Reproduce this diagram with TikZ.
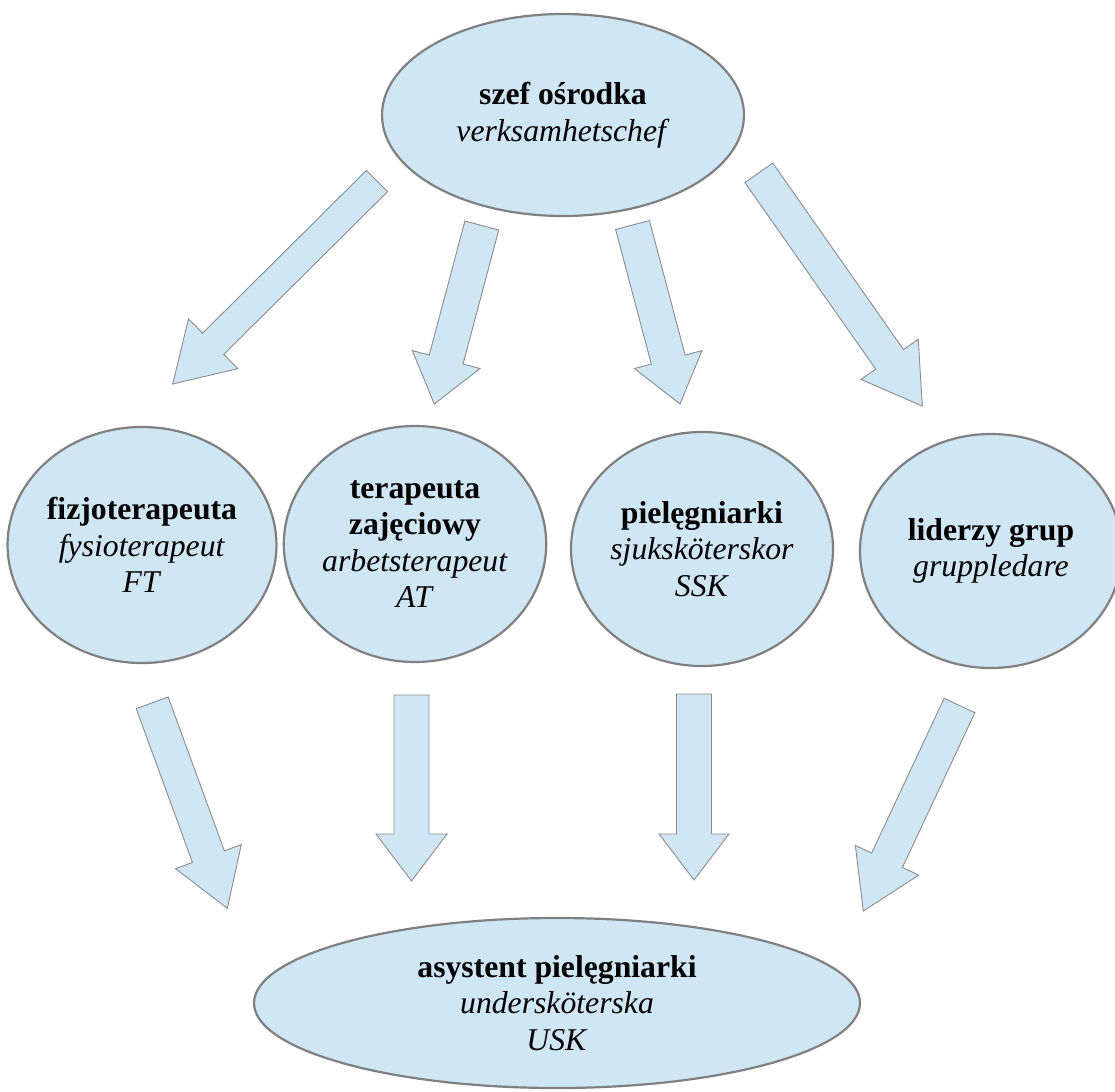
\documentclass[tikz,border=0pt]{standalone}
\usepackage{fontspec}
\setmainfont{Liberation Serif}
\usetikzlibrary{shapes.geometric,calc}

\definecolor{rolefill}{RGB}{207,230,244}
\definecolor{roleline}{RGB}{128,128,128}
\definecolor{arrline}{RGB}{140,140,140}

\tikzstyle{role}=[ellipse,draw=roleline,line width=2.2pt,fill=rolefill,inner sep=0pt,align=center,font=\fontsize{31.7}{36.5}\selectfont]
\tikzstyle{blockarr}=[draw=arrline,line width=0.9pt,fill=rolefill,line join=miter]

% #1 tail, #2 tip, #3 half shaft, #4 half head, #5 head length
\newcommand{\blockarrow}[5]{%
  \coordinate (hb) at ($(#2)!#5!(#1)$);
  \draw[blockarr] ($(#1)!#3!90:(#2)$) -- ($(hb)!#3!90:(#2)$) -- ($(hb)!#4!90:(#2)$)
    -- (#2) -- ($(hb)!#4!-90:(#2)$) -- ($(hb)!#3!-90:(#2)$) -- ($(#1)!#3!-90:(#2)$) -- cycle;
}

\begin{document}
\begin{tikzpicture}[x=1pt,y=-1pt]
   \useasboundingbox (0,0) rectangle (1115,1091);

   \node[role,minimum width=362pt,minimum height=202pt] (chef) at (563,115)
      {\textbf{szef ośrodka}\\\textit{verksamhetschef}};

   \node[role,minimum width=262pt,minimum height=236pt] (fysio) at (142,545)
      {\textbf{fizjoterapeuta}\\\textit{fysioterapeut}\\\textit{FT}};
   \node[role,minimum width=262pt,minimum height=236pt] (arbets) at (415,544)
      {\textbf{terapeuta}\\\textbf{zajęciowy}\\\textit{arbetsterapeut}\\\textit{AT}};
   \node[role,minimum width=262pt,minimum height=234pt] (sjuk) at (702,549)
      {\textbf{pielęgniarki}\\\textit{sjuksköterskor}\\\textit{SSK}};
   \node[role,minimum width=262pt,minimum height=234pt] (grupp) at (991,551)
      {\textbf{liderzy grup}\\\textit{gruppledare}};

   \node[role,minimum width=606pt,minimum height=170pt] (usk) at (557,1003)
      {\textbf{asystent pielęgniarki}\\\textit{undersköterska}\\\textit{USK}};

   % chef -> second row
   \coordinate (a1t) at (377,181);   \coordinate (a1h) at (172.7,384);
   \coordinate (a2t) at (481.8,225.5); \coordinate (a2h) at (434.3,404);
   \coordinate (a3t) at (632.5,225); \coordinate (a3h) at (680,404);
   \coordinate (a4t) at (758.8,172.8); \coordinate (a4h) at (922.3,406);
   \blockarrow{a1t}{a1h}{15pt}{35pt}{57pt}
   \blockarrow{a2t}{a2h}{17.5pt}{35pt}{46pt}
   \blockarrow{a3t}{a3h}{17.5pt}{35pt}{46pt}
   \blockarrow{a4t}{a4h}{17pt}{35pt}{57pt}

   % second row -> usk
   \coordinate (b1t) at (152.2,702.8); \coordinate (b1h) at (227.3,908.3);
   \coordinate (b2t) at (411.5,695); \coordinate (b2h) at (411.5,881);
   \coordinate (b3t) at (694,694);   \coordinate (b3h) at (694,880);
   \coordinate (b4t) at (959.5,705.5); \coordinate (b4h) at (863.3,911);
   \blockarrow{b1t}{b1h}{17pt}{35pt}{55pt}
   \blockarrow{b2t}{b2h}{17.5pt}{35.5pt}{47pt}
   \blockarrow{b3t}{b3h}{17.5pt}{35pt}{46pt}
   \blockarrow{b4t}{b4h}{17pt}{35pt}{56pt}

\end{tikzpicture}
\end{document}
